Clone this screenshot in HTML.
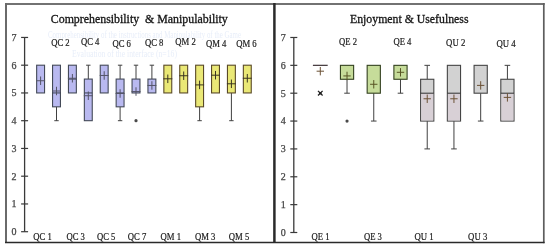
<!DOCTYPE html>
<html><head><meta charset="utf-8"><style>
html,body{margin:0;padding:0;background:#fff;width:550px;height:249px;overflow:hidden}
svg{display:block}
text{font-family:"Liberation Serif",serif}
svg{will-change:transform}
.yl{font-size:10px;fill:#444;stroke:#444;stroke-width:0.25px;text-anchor:middle}
.lb{font-size:10.4px;fill:#1a1a1a;stroke:#1a1a1a;stroke-width:0.2px;text-anchor:middle}
.tt{font-size:12px;fill:#141414;stroke:#141414;stroke-width:0.3px;text-anchor:start}
</style></head><body>
<svg width="550" height="249" viewBox="0 0 550 249">
<rect x="0" y="0" width="550" height="249" fill="#fff"/>
<line x1="5" y1="4" x2="544.6" y2="4" stroke="#727272" stroke-width="2"/>
<line x1="6" y1="3" x2="6" y2="243" stroke="#6a6a6a" stroke-width="2"/>
<line x1="543.8" y1="3" x2="543.8" y2="243.2" stroke="#5e5e5e" stroke-width="1.7"/>
<line x1="5" y1="242.5" x2="544.6" y2="242.5" stroke="#2a2a2a" stroke-width="1.6"/>
<line x1="274.4" y1="3" x2="274.4" y2="243" stroke="#2a2a2a" stroke-width="2.5"/>
<text x="50.8" y="22.5" class="tt" style="white-space:pre" textLength="177" lengthAdjust="spacingAndGlyphs">Comprehensibility  &amp; Manipulability</text>
<text x="350" y="22.5" class="tt" textLength="118.5" lengthAdjust="spacingAndGlyphs">Enjoyment &amp; Usefulness</text>
<g fill="#e8eef9" font-size="10px" font-family="Liberation Serif,serif">
<text x="48" y="37.5" textLength="193" lengthAdjust="spacingAndGlyphs">Comprehensibility of the instructions and Manipulability of the Game</text>
<text x="72" y="56.5" textLength="105" lengthAdjust="spacingAndGlyphs">Evaluation of the interface (n=16)</text>
</g>
<line x1="24.60" y1="37.45" x2="24.60" y2="231.70" stroke="#3a3a3a" stroke-width="1.3"/>
<line x1="21.10" y1="231.70" x2="28.10" y2="231.70" stroke="#3a3a3a" stroke-width="1.2"/>
<text x="14.0" y="235.10" class="yl">0</text>
<line x1="21.10" y1="203.95" x2="28.10" y2="203.95" stroke="#3a3a3a" stroke-width="1.2"/>
<text x="14.0" y="207.35" class="yl">1</text>
<line x1="21.10" y1="176.20" x2="28.10" y2="176.20" stroke="#3a3a3a" stroke-width="1.2"/>
<text x="14.0" y="179.60" class="yl">2</text>
<line x1="21.10" y1="148.45" x2="28.10" y2="148.45" stroke="#3a3a3a" stroke-width="1.2"/>
<text x="14.0" y="151.85" class="yl">3</text>
<line x1="21.10" y1="120.70" x2="28.10" y2="120.70" stroke="#3a3a3a" stroke-width="1.2"/>
<text x="14.0" y="124.10" class="yl">4</text>
<line x1="21.10" y1="92.95" x2="28.10" y2="92.95" stroke="#3a3a3a" stroke-width="1.2"/>
<text x="14.0" y="96.35" class="yl">5</text>
<line x1="21.10" y1="65.20" x2="28.10" y2="65.20" stroke="#3a3a3a" stroke-width="1.2"/>
<text x="14.0" y="68.60" class="yl">6</text>
<line x1="21.10" y1="37.45" x2="28.10" y2="37.45" stroke="#3a3a3a" stroke-width="1.2"/>
<text x="14.0" y="40.85" class="yl">7</text>
<rect x="36.65" y="65.20" width="7.90" height="27.75" fill="#b9b9f0" stroke="#444a58" stroke-width="1.1"/>
<line x1="36.10" y1="80.74" x2="45.10" y2="80.74" stroke="#555568" stroke-width="1"/>
<line x1="40.60" y1="76.49" x2="40.60" y2="84.99" stroke="#555568" stroke-width="1"/>
<line x1="56.50" y1="106.82" x2="56.50" y2="120.70" stroke="#404040" stroke-width="1"/>
<line x1="54.30" y1="120.70" x2="58.70" y2="120.70" stroke="#404040" stroke-width="1"/>
<rect x="52.55" y="65.20" width="7.90" height="41.62" fill="#b9b9f0" stroke="#444a58" stroke-width="1.1"/>
<line x1="52.55" y1="92.95" x2="60.45" y2="92.95" stroke="#3a4050" stroke-width="1"/>
<line x1="52.00" y1="91.01" x2="61.00" y2="91.01" stroke="#555568" stroke-width="1"/>
<line x1="56.50" y1="86.76" x2="56.50" y2="95.26" stroke="#555568" stroke-width="1"/>
<rect x="68.45" y="65.20" width="7.90" height="27.75" fill="#b9b9f0" stroke="#444a58" stroke-width="1.1"/>
<line x1="68.45" y1="79.07" x2="76.35" y2="79.07" stroke="#3a4050" stroke-width="1"/>
<line x1="67.90" y1="78.24" x2="76.90" y2="78.24" stroke="#555568" stroke-width="1"/>
<line x1="72.40" y1="73.99" x2="72.40" y2="82.49" stroke="#555568" stroke-width="1"/>
<line x1="88.30" y1="65.20" x2="88.30" y2="79.07" stroke="#404040" stroke-width="1"/>
<line x1="86.10" y1="65.20" x2="90.50" y2="65.20" stroke="#404040" stroke-width="1"/>
<rect x="84.35" y="79.07" width="7.90" height="41.62" fill="#b9b9f0" stroke="#444a58" stroke-width="1.1"/>
<line x1="84.35" y1="92.95" x2="92.25" y2="92.95" stroke="#3a4050" stroke-width="1"/>
<line x1="83.80" y1="95.72" x2="92.80" y2="95.72" stroke="#555568" stroke-width="1"/>
<line x1="88.30" y1="91.47" x2="88.30" y2="99.97" stroke="#555568" stroke-width="1"/>
<rect x="100.25" y="65.20" width="7.90" height="27.75" fill="#b9b9f0" stroke="#444a58" stroke-width="1.1"/>
<line x1="99.70" y1="75.47" x2="108.70" y2="75.47" stroke="#555568" stroke-width="1"/>
<line x1="104.20" y1="71.22" x2="104.20" y2="79.72" stroke="#555568" stroke-width="1"/>
<line x1="120.10" y1="65.20" x2="120.10" y2="79.07" stroke="#404040" stroke-width="1"/>
<line x1="117.90" y1="65.20" x2="122.30" y2="65.20" stroke="#404040" stroke-width="1"/>
<line x1="120.10" y1="106.82" x2="120.10" y2="120.70" stroke="#404040" stroke-width="1"/>
<line x1="117.90" y1="120.70" x2="122.30" y2="120.70" stroke="#404040" stroke-width="1"/>
<rect x="116.15" y="79.07" width="7.90" height="27.75" fill="#b9b9f0" stroke="#444a58" stroke-width="1.1"/>
<line x1="116.15" y1="92.95" x2="124.05" y2="92.95" stroke="#3a4050" stroke-width="1"/>
<line x1="115.60" y1="93.50" x2="124.60" y2="93.50" stroke="#555568" stroke-width="1"/>
<line x1="120.10" y1="89.25" x2="120.10" y2="97.75" stroke="#555568" stroke-width="1"/>
<line x1="136.00" y1="65.20" x2="136.00" y2="79.07" stroke="#404040" stroke-width="1"/>
<line x1="133.80" y1="65.20" x2="138.20" y2="65.20" stroke="#404040" stroke-width="1"/>
<rect x="132.05" y="79.07" width="7.90" height="13.88" fill="#b9b9f0" stroke="#444a58" stroke-width="1.1"/>
<line x1="131.50" y1="91.56" x2="140.50" y2="91.56" stroke="#555568" stroke-width="1"/>
<line x1="136.00" y1="87.31" x2="136.00" y2="95.81" stroke="#555568" stroke-width="1"/>
<circle cx="136.00" cy="120.70" r="1.6" fill="#4a4a4a"/>
<line x1="151.90" y1="65.20" x2="151.90" y2="79.07" stroke="#404040" stroke-width="1"/>
<line x1="149.70" y1="65.20" x2="154.10" y2="65.20" stroke="#404040" stroke-width="1"/>
<rect x="147.95" y="79.07" width="7.90" height="13.88" fill="#b9b9f0" stroke="#444a58" stroke-width="1.1"/>
<line x1="147.40" y1="85.46" x2="156.40" y2="85.46" stroke="#555568" stroke-width="1"/>
<line x1="151.90" y1="81.21" x2="151.90" y2="89.71" stroke="#555568" stroke-width="1"/>
<rect x="163.85" y="65.20" width="7.90" height="27.75" fill="#eae876" stroke="#5a4a28" stroke-width="1.1"/>
<line x1="163.30" y1="78.80" x2="172.30" y2="78.80" stroke="#3a3420" stroke-width="1"/>
<line x1="167.80" y1="74.55" x2="167.80" y2="83.05" stroke="#3a3420" stroke-width="1"/>
<rect x="179.75" y="65.20" width="7.90" height="27.75" fill="#eae876" stroke="#5a4a28" stroke-width="1.1"/>
<line x1="179.20" y1="75.74" x2="188.20" y2="75.74" stroke="#3a3420" stroke-width="1"/>
<line x1="183.70" y1="71.49" x2="183.70" y2="79.99" stroke="#3a3420" stroke-width="1"/>
<line x1="199.60" y1="106.82" x2="199.60" y2="120.70" stroke="#404040" stroke-width="1"/>
<line x1="197.40" y1="120.70" x2="201.80" y2="120.70" stroke="#404040" stroke-width="1"/>
<rect x="195.65" y="65.20" width="7.90" height="41.62" fill="#eae876" stroke="#5a4a28" stroke-width="1.1"/>
<line x1="195.10" y1="84.90" x2="204.10" y2="84.90" stroke="#3a3420" stroke-width="1"/>
<line x1="199.60" y1="80.65" x2="199.60" y2="89.15" stroke="#3a3420" stroke-width="1"/>
<rect x="211.55" y="65.20" width="7.90" height="27.75" fill="#eae876" stroke="#5a4a28" stroke-width="1.1"/>
<line x1="211.00" y1="75.19" x2="220.00" y2="75.19" stroke="#3a3420" stroke-width="1"/>
<line x1="215.50" y1="70.94" x2="215.50" y2="79.44" stroke="#3a3420" stroke-width="1"/>
<line x1="231.40" y1="92.95" x2="231.40" y2="120.70" stroke="#404040" stroke-width="1"/>
<line x1="229.20" y1="120.70" x2="233.60" y2="120.70" stroke="#404040" stroke-width="1"/>
<rect x="227.45" y="65.20" width="7.90" height="27.75" fill="#eae876" stroke="#5a4a28" stroke-width="1.1"/>
<line x1="226.90" y1="83.79" x2="235.90" y2="83.79" stroke="#3a3420" stroke-width="1"/>
<line x1="231.40" y1="79.54" x2="231.40" y2="88.04" stroke="#3a3420" stroke-width="1"/>
<rect x="243.35" y="65.20" width="7.90" height="27.75" fill="#eae876" stroke="#5a4a28" stroke-width="1.1"/>
<line x1="242.80" y1="78.24" x2="251.80" y2="78.24" stroke="#3a3420" stroke-width="1"/>
<line x1="247.30" y1="73.99" x2="247.30" y2="82.49" stroke="#3a3420" stroke-width="1"/>
<line x1="293.80" y1="37.48" x2="293.80" y2="232.50" stroke="#3a3a3a" stroke-width="1.3"/>
<line x1="290.30" y1="232.50" x2="297.30" y2="232.50" stroke="#3a3a3a" stroke-width="1.2"/>
<text x="283.2" y="235.90" class="yl">0</text>
<line x1="290.30" y1="204.64" x2="297.30" y2="204.64" stroke="#3a3a3a" stroke-width="1.2"/>
<text x="283.2" y="208.04" class="yl">1</text>
<line x1="290.30" y1="176.78" x2="297.30" y2="176.78" stroke="#3a3a3a" stroke-width="1.2"/>
<text x="283.2" y="180.18" class="yl">2</text>
<line x1="290.30" y1="148.92" x2="297.30" y2="148.92" stroke="#3a3a3a" stroke-width="1.2"/>
<text x="283.2" y="152.32" class="yl">3</text>
<line x1="290.30" y1="121.06" x2="297.30" y2="121.06" stroke="#3a3a3a" stroke-width="1.2"/>
<text x="283.2" y="124.46" class="yl">4</text>
<line x1="290.30" y1="93.20" x2="297.30" y2="93.20" stroke="#3a3a3a" stroke-width="1.2"/>
<text x="283.2" y="96.60" class="yl">5</text>
<line x1="290.30" y1="65.34" x2="297.30" y2="65.34" stroke="#3a3a3a" stroke-width="1.2"/>
<text x="283.2" y="68.74" class="yl">6</text>
<line x1="290.30" y1="37.48" x2="297.30" y2="37.48" stroke="#3a3a3a" stroke-width="1.2"/>
<text x="283.2" y="40.88" class="yl">7</text>
<line x1="312.90" y1="65.34" x2="327.70" y2="65.34" stroke="#3e3438" stroke-width="1.2"/>
<line x1="316.60" y1="71.19" x2="324.00" y2="71.19" stroke="#6c5236" stroke-width="1"/>
<line x1="320.30" y1="66.99" x2="320.30" y2="75.39" stroke="#6c5236" stroke-width="1"/>
<line x1="318.00" y1="90.90" x2="322.60" y2="95.50" stroke="#202020" stroke-width="1.3"/>
<line x1="318.00" y1="95.50" x2="322.60" y2="90.90" stroke="#202020" stroke-width="1.3"/>
<circle cx="320.30" cy="93.20" r="1.2" fill="#202020"/>
<line x1="347.03" y1="79.27" x2="347.03" y2="93.20" stroke="#404040" stroke-width="1"/>
<line x1="344.23" y1="93.20" x2="349.83" y2="93.20" stroke="#404040" stroke-width="1"/>
<rect x="340.43" y="65.34" width="13.20" height="13.93" fill="#c6dc9a" stroke="#33401f" stroke-width="1.1"/>
<line x1="343.33" y1="75.93" x2="350.73" y2="75.93" stroke="#585424" stroke-width="1"/>
<line x1="347.03" y1="71.73" x2="347.03" y2="80.13" stroke="#585424" stroke-width="1"/>
<circle cx="347.03" cy="121.06" r="1.6" fill="#4a4a4a"/>
<line x1="373.76" y1="93.20" x2="373.76" y2="121.06" stroke="#404040" stroke-width="1"/>
<line x1="370.96" y1="121.06" x2="376.56" y2="121.06" stroke="#404040" stroke-width="1"/>
<rect x="367.16" y="65.34" width="13.20" height="27.86" fill="#c6dc9a" stroke="#33401f" stroke-width="1.1"/>
<line x1="370.06" y1="84.28" x2="377.46" y2="84.28" stroke="#585424" stroke-width="1"/>
<line x1="373.76" y1="80.08" x2="373.76" y2="88.48" stroke="#585424" stroke-width="1"/>
<line x1="400.49" y1="79.27" x2="400.49" y2="93.20" stroke="#404040" stroke-width="1"/>
<line x1="397.69" y1="93.20" x2="403.29" y2="93.20" stroke="#404040" stroke-width="1"/>
<rect x="393.89" y="65.34" width="13.20" height="13.93" fill="#c6dc9a" stroke="#33401f" stroke-width="1.1"/>
<line x1="396.79" y1="72.31" x2="404.19" y2="72.31" stroke="#585424" stroke-width="1"/>
<line x1="400.49" y1="68.11" x2="400.49" y2="76.51" stroke="#585424" stroke-width="1"/>
<line x1="427.22" y1="65.34" x2="427.22" y2="79.27" stroke="#404040" stroke-width="1"/>
<line x1="424.42" y1="65.34" x2="430.02" y2="65.34" stroke="#404040" stroke-width="1"/>
<line x1="427.22" y1="121.06" x2="427.22" y2="148.92" stroke="#404040" stroke-width="1"/>
<line x1="424.42" y1="148.92" x2="430.02" y2="148.92" stroke="#404040" stroke-width="1"/>
<rect x="420.62" y="79.27" width="13.20" height="41.79" fill="#d2d2d2" stroke="#454545" stroke-width="1.1"/>
<rect x="421.17" y="93.20" width="12.10" height="27.31" fill="#d8d0d6"/>
<line x1="420.62" y1="93.20" x2="433.82" y2="93.20" stroke="#303030" stroke-width="1"/>
<line x1="423.52" y1="98.77" x2="430.92" y2="98.77" stroke="#6c5236" stroke-width="1"/>
<line x1="427.22" y1="94.57" x2="427.22" y2="102.97" stroke="#6c5236" stroke-width="1"/>
<line x1="453.95" y1="121.06" x2="453.95" y2="148.92" stroke="#404040" stroke-width="1"/>
<line x1="451.15" y1="148.92" x2="456.75" y2="148.92" stroke="#404040" stroke-width="1"/>
<rect x="447.35" y="65.34" width="13.20" height="55.72" fill="#d2d2d2" stroke="#454545" stroke-width="1.1"/>
<rect x="447.90" y="93.20" width="12.10" height="27.31" fill="#d8d0d6"/>
<line x1="447.35" y1="93.20" x2="460.55" y2="93.20" stroke="#303030" stroke-width="1"/>
<line x1="450.25" y1="98.77" x2="457.65" y2="98.77" stroke="#6c5236" stroke-width="1"/>
<line x1="453.95" y1="94.57" x2="453.95" y2="102.97" stroke="#6c5236" stroke-width="1"/>
<line x1="480.68" y1="93.20" x2="480.68" y2="121.06" stroke="#404040" stroke-width="1"/>
<line x1="477.88" y1="121.06" x2="483.48" y2="121.06" stroke="#404040" stroke-width="1"/>
<rect x="474.08" y="65.34" width="13.20" height="27.86" fill="#d2d2d2" stroke="#454545" stroke-width="1.1"/>
<line x1="476.98" y1="85.40" x2="484.38" y2="85.40" stroke="#6c5236" stroke-width="1"/>
<line x1="480.68" y1="81.20" x2="480.68" y2="89.60" stroke="#6c5236" stroke-width="1"/>
<line x1="507.41" y1="65.34" x2="507.41" y2="79.27" stroke="#404040" stroke-width="1"/>
<line x1="504.61" y1="65.34" x2="510.21" y2="65.34" stroke="#404040" stroke-width="1"/>
<rect x="500.81" y="79.27" width="13.20" height="41.79" fill="#d2d2d2" stroke="#454545" stroke-width="1.1"/>
<rect x="501.36" y="93.20" width="12.10" height="27.31" fill="#d8d0d6"/>
<line x1="500.81" y1="93.20" x2="514.01" y2="93.20" stroke="#303030" stroke-width="1"/>
<line x1="503.71" y1="97.38" x2="511.11" y2="97.38" stroke="#6c5236" stroke-width="1"/>
<line x1="507.41" y1="93.18" x2="507.41" y2="101.58" stroke="#6c5236" stroke-width="1"/>
<text x="60.4" y="46.2" class="lb" textLength="18.5" lengthAdjust="spacingAndGlyphs">QC 2</text>
<text x="90.2" y="45.1" class="lb" textLength="18.5" lengthAdjust="spacingAndGlyphs">QC 4</text>
<text x="121.7" y="46.8" class="lb" textLength="18.5" lengthAdjust="spacingAndGlyphs">QC 6</text>
<text x="154.2" y="46.1" class="lb" textLength="18.5" lengthAdjust="spacingAndGlyphs">QC 8</text>
<text x="185.6" y="44.7" class="lb" textLength="20.5" lengthAdjust="spacingAndGlyphs">QM 2</text>
<text x="216.2" y="46.5" class="lb" textLength="20.5" lengthAdjust="spacingAndGlyphs">QM 4</text>
<text x="246.4" y="46.5" class="lb" textLength="20.5" lengthAdjust="spacingAndGlyphs">QM 6</text>
<text x="42.5" y="239.5" class="lb" textLength="18.5" lengthAdjust="spacingAndGlyphs">QC 1</text>
<text x="75.7" y="239.5" class="lb" textLength="18.5" lengthAdjust="spacingAndGlyphs">QC 3</text>
<text x="106.2" y="239.5" class="lb" textLength="18.5" lengthAdjust="spacingAndGlyphs">QC 5</text>
<text x="137.0" y="239.5" class="lb" textLength="18.5" lengthAdjust="spacingAndGlyphs">QC 7</text>
<text x="170.8" y="239.7" class="lb" textLength="20.5" lengthAdjust="spacingAndGlyphs">QM 1</text>
<text x="205.2" y="239.7" class="lb" textLength="20.5" lengthAdjust="spacingAndGlyphs">QM 3</text>
<text x="239.0" y="239.7" class="lb" textLength="20.5" lengthAdjust="spacingAndGlyphs">QM 5</text>
<text x="348.0" y="44.7" class="lb" textLength="18" lengthAdjust="spacingAndGlyphs">QE 2</text>
<text x="402.4" y="45.0" class="lb" textLength="18" lengthAdjust="spacingAndGlyphs">QE 4</text>
<text x="455.7" y="46.4" class="lb" textLength="19.2" lengthAdjust="spacingAndGlyphs">QU 2</text>
<text x="506.0" y="47.3" class="lb" textLength="19.2" lengthAdjust="spacingAndGlyphs">QU 4</text>
<text x="320.6" y="239.6" class="lb" textLength="18" lengthAdjust="spacingAndGlyphs">QE 1</text>
<text x="372.9" y="239.6" class="lb" textLength="18" lengthAdjust="spacingAndGlyphs">QE 3</text>
<text x="424.0" y="240.2" class="lb" textLength="19.2" lengthAdjust="spacingAndGlyphs">QU 1</text>
<text x="477.7" y="240.2" class="lb" textLength="19.2" lengthAdjust="spacingAndGlyphs">QU 3</text>
</svg>
</body></html>
